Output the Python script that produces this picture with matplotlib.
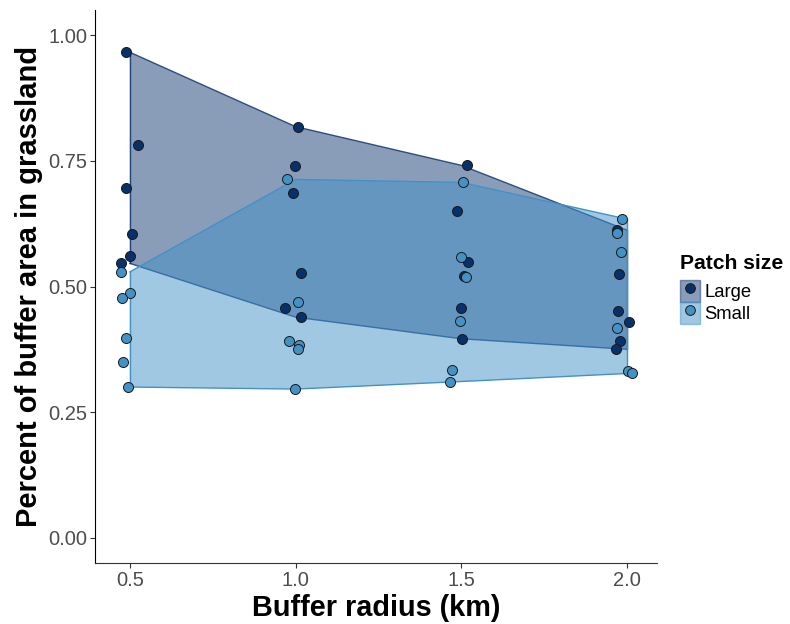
import numpy as np
import matplotlib.pyplot as plt
from matplotlib.patches import Patch
from matplotlib.lines import Line2D

plt.rcParams['font.family'] = ['Liberation Sans', 'DejaVu Sans']

# buffer radii (km) where the ribbons are drawn
radii = [0.5, 1.0, 1.5, 2.0]

large_x = [0.488, 0.524, 0.490, 0.508, 0.501, 0.474,
           1.006, 0.997, 0.992, 1.015, 0.968, 1.015,
           1.516, 1.488, 1.519, 1.507, 1.500, 1.501,
           1.968, 1.974, 1.973, 2.006, 1.979, 1.966]
large_y = [0.966, 0.781, 0.696, 0.605, 0.561, 0.546,
           0.818, 0.739, 0.686, 0.526, 0.457, 0.439,
           0.741, 0.651, 0.548, 0.520, 0.457, 0.396,
           0.612, 0.524, 0.451, 0.429, 0.392, 0.375]
small_x = [0.473, 0.501, 0.476, 0.487, 0.478, 0.494,
           0.974, 1.006, 0.981, 1.011, 1.008, 0.998,
           1.506, 1.500, 1.513, 1.496, 1.471, 1.465,
           1.983, 1.968, 1.981, 1.969, 2.002, 2.015]
small_y = [0.529, 0.487, 0.478, 0.398, 0.350, 0.300,
           0.713, 0.470, 0.392, 0.383, 0.376, 0.296,
           0.707, 0.559, 0.518, 0.431, 0.333, 0.311,
           0.634, 0.606, 0.568, 0.417, 0.332, 0.327]

# min / max per radius for the ribbons
large_min = [0.546, 0.439, 0.396, 0.375]
large_max = [0.966, 0.818, 0.741, 0.612]
small_min = [0.300, 0.296, 0.311, 0.327]
small_max = [0.529, 0.713, 0.707, 0.634]

dark = "#08306b"
light = "#4292c6"

fig = plt.figure(figsize=(7.9, 6.24), dpi=100)
ax = fig.add_axes([95 / 790, 1 - 563 / 624, 562 / 790, 553 / 624])

ax.fill_between(radii, large_min, large_max, facecolor=dark, alpha=0.48,
                edgecolor="none", zorder=1)
ax.plot(radii, large_max, color=dark, lw=1, alpha=0.8, zorder=1.1)
ax.plot(radii, large_min, color=dark, lw=1, alpha=0.8, zorder=1.1)
ax.plot([0.5, 0.5], [large_min[0], large_max[0]], color=dark, lw=1, alpha=0.8, zorder=1.1)
ax.plot([2.0, 2.0], [large_min[-1], large_max[-1]], color=dark, lw=1, alpha=0.8, zorder=1.1)

ax.fill_between(radii, small_min, small_max, facecolor=light, alpha=0.5,
                edgecolor="none", zorder=2)
ax.plot(radii, small_max, color=light, lw=1, zorder=2.1)
ax.plot(radii, small_min, color=light, lw=1, zorder=2.1)
ax.plot([0.5, 0.5], [small_min[0], small_max[0]], color=light, lw=1, zorder=2.1)
ax.plot([2.0, 2.0], [small_min[-1], small_max[-1]], color=light, lw=1, zorder=2.1)

ax.scatter(large_x, large_y, s=52, facecolor=dark, edgecolor="#1a1a1a",
           linewidth=0.7, zorder=3)
ax.scatter(small_x, small_y, s=52, facecolor=light, edgecolor="#1a1a1a",
           linewidth=0.7, zorder=4)

ax.set_xlim(0.395, 2.09)
ax.set_ylim(-0.05, 1.05)
ax.set_xticks([0.5, 1.0, 1.5, 2.0])
ax.set_xticklabels(["0.5", "1.0", "1.5", "2.0"])
ax.set_yticks([0.0, 0.25, 0.5, 0.75, 1.0])
ax.set_yticklabels(["0.00", "0.25", "0.50", "0.75", "1.00"])

for side in ["top", "right"]:
    ax.spines[side].set_visible(False)
ax.spines["left"].set_color("black")
ax.spines["bottom"].set_color("#333333")
ax.tick_params(axis="both", length=3.5, width=0.8, color="#333333",
               labelsize=14.5, labelcolor="#4d4d4d", pad=2)

ax.set_xlabel("Buffer radius (km)", fontsize=20.8, fontweight="bold", labelpad=3)
ax.set_ylabel("Percent of buffer area in grassland", fontsize=21,
              fontweight="bold", labelpad=4)

handles = [
    (Patch(facecolor=dark, alpha=0.48, edgecolor=dark),
     Line2D([], [], ls="none", marker="o", ms=7, mfc=dark, mec="#1a1a1a", mew=0.7)),
    (Patch(facecolor=light, alpha=0.5, edgecolor=light),
     Line2D([], [], ls="none", marker="o", ms=7, mfc=light, mec="#1a1a1a", mew=0.7)),
]
leg = fig.legend(handles, ["Large", "Small"], title="Patch size",
                 loc="upper left", bbox_to_anchor=(679.5 / 790, 1 - 254 / 624),
                 frameon=False, fontsize=13.3, title_fontsize=15.2,
                 handlelength=1.1, handleheight=1.45, handletextpad=0.25,
                 labelspacing=0.0, borderaxespad=0, borderpad=0)
leg.get_title().set_fontweight("bold")
leg._legend_box.align = "left"
leg._legend_box.sep = 5

plt.savefig("out.png", dpi=100)
